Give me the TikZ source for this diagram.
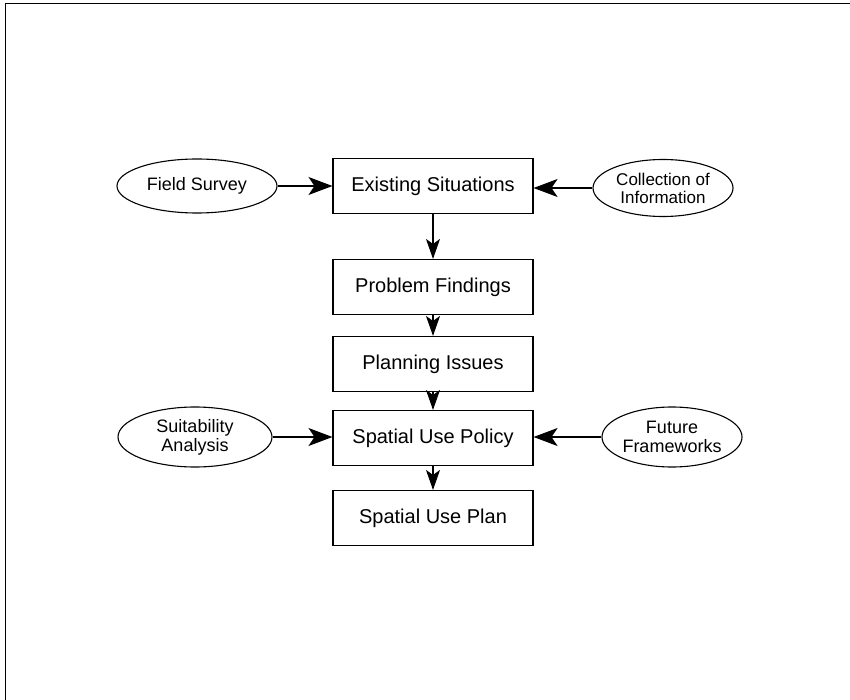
\documentclass[tikz,border=0pt]{standalone}
\usepackage{fontspec}
\setmainfont{Liberation Sans}
\usetikzlibrary{shapes.geometric,arrows.meta}
\begin{document}
\begin{tikzpicture}[x=1pt,y=-1pt,
  stepbox/.style={draw,line width=1.1pt,minimum width=200pt,minimum height=55pt,inner sep=0pt,font=\fontsize{20}{22}\selectfont},
  oval/.style={draw,ellipse,line width=1.1pt,inner sep=0pt,align=center,font=\fontsize{18}{19}\selectfont},
  flow/.style={line width=1.1pt,-{Stealth[length=24pt,width=18pt,inset=6pt]}},
  down/.style={line width=1.1pt,-{Stealth[length=20pt,width=14pt,inset=5pt]}}]
\useasboundingbox (0,0) rectangle (850,700);
\draw[line width=0.8pt] (5,700) -- (5,3) -- (850,3);
\node[stepbox] (es) at (433,186) {Existing Situations};
\node[stepbox] (pf) at (433,287) {Problem Findings};
\node[stepbox] (pi) at (433,364) {Planning Issues};
\node[stepbox] (sp) at (433,438) {Spatial Use Policy};
\node[stepbox] (pl) at (433,518) {Spatial Use Plan};
\node[oval,minimum width=160pt,minimum height=54pt] (fs) at (197,186) {Field Survey};
\node[oval,minimum width=140pt,minimum height=57pt,font=\fontsize{17}{18}\selectfont] (ci) at (663,188) {Collection of\\Information};
\node[oval,minimum width=154pt,minimum height=60pt] (sa) at (195,437) {Suitability\\Analysis};
\node[oval,minimum width=136pt,minimum height=60pt] (ff) at (672,437) {Future\\Frameworks};
\draw[flow] (fs.east) -- (fs.east -| es.west);
\draw[flow] (ci.west) -- (ci.west -| es.east);
\draw[flow] (sa.east) -- (sa.east -| sp.west);
\draw[flow] (ff.west) -- (ff.west -| sp.east);
\draw[down] (es) -- (pf);
\draw[down] (pf) -- (pi);
\draw[down] (pi) -- (sp);
\draw[down] (sp) -- (pl);
\end{tikzpicture}
\end{document}
